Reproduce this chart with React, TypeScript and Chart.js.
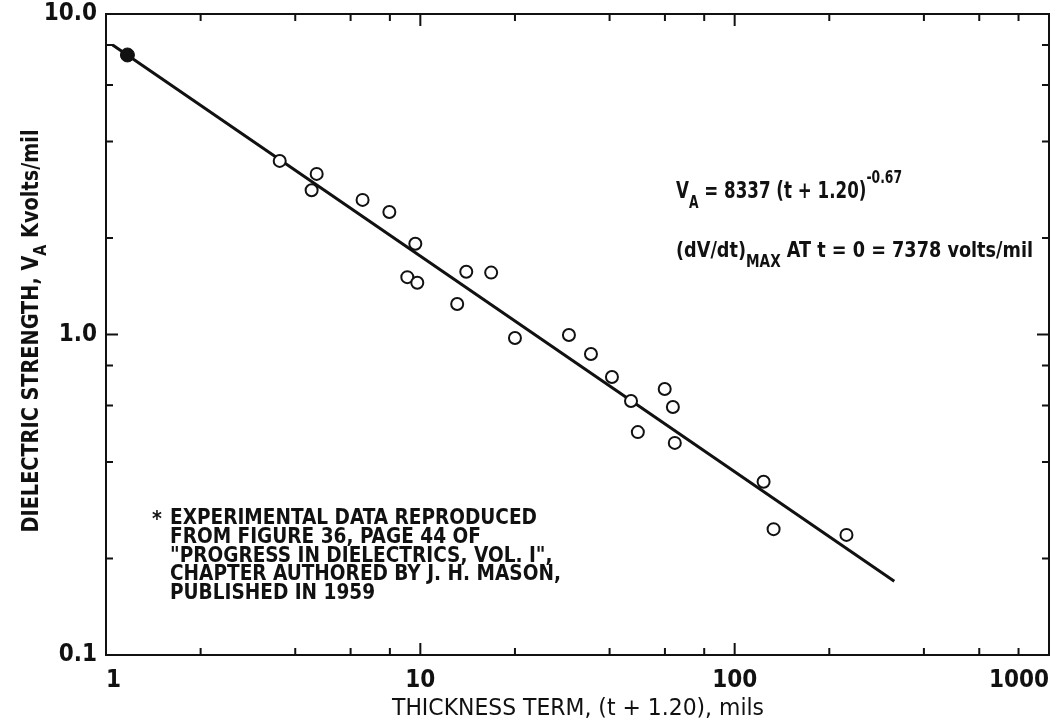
import React, { useEffect, useRef } from 'react';
import { Chart, registerables } from 'chart.js';

Chart.register(...registerables);

// ---- data ----
const openX = [3.57, 4.68, 4.51, 6.55, 7.97, 9.64, 9.09, 9.78, 14.0, 16.8, 13.1, 20.0, 29.7, 34.9, 40.7, 46.8, 59.9, 63.6, 49.2, 64.5, 123.6, 133, 226.8];
const openY = [3.48, 3.17, 2.82, 2.63, 2.41, 1.92, 1.51, 1.45, 1.57, 1.56, 1.245, 0.975, 0.996, 0.869, 0.737, 0.62, 0.676, 0.594, 0.496, 0.459, 0.347, 0.247, 0.237];
const solidX = [1.17];
const solidY = [7.45];
const fitX = [1.05, 322];
const fitY = [8.0, 0.17];

const xMajorTicks = [1, 10, 100, 1000];
const xMajorLabels = ['1', '10', '100', '1000'];
const xMinorTicks = [2, 4, 6, 8, 20, 40, 60, 80, 200, 400, 600, 800];
const yMajorTicks = [0.1, 1, 10];
const yMajorLabels = ['0.1', '1.0', '10.0'];
const yMinorTicks = [0.2, 0.4, 0.6, 0.8, 2, 4, 6, 8];

const noteLines = [
  'EXPERIMENTAL DATA REPRODUCED',
  'FROM FIGURE 36, PAGE 44 OF',
  '"PROGRESS IN DIELECTRICS, VOL. I",',
  'CHAPTER AUTHORED BY J. H. MASON,',
  'PUBLISHED IN 1959',
];

const FONT = "'DejaVu Sans Condensed', 'Liberation Sans Narrow', 'Liberation Sans', Arial, sans-serif";
const TICK_FONT = "'Liberation Sans Narrow', 'DejaVu Sans Condensed', 'Liberation Sans', sans-serif";

type Run = { t: string; size: number; dy?: number };

function drawRuns(
  ctx: CanvasRenderingContext2D,
  runs: Run[],
  x: number,
  y: number,
  opts: { width?: number; scale?: number; align?: 'left' | 'center'; rotate?: number; weight?: string }
) {
  const weight = opts.weight || 'normal';
  ctx.save();
  const widths = runs.map((r) => {
    ctx.font = `${weight} ${r.size}px ${FONT}`;
    return ctx.measureText(r.t).width;
  });
  const total = widths.reduce((a, b) => a + b, 0);
  const s = opts.width ? opts.width / total : opts.scale ?? 1;
  ctx.translate(x, y);
  if (opts.rotate) ctx.rotate(opts.rotate);
  ctx.scale(s, 1);
  ctx.fillStyle = '#111';
  ctx.textBaseline = 'alphabetic';
  ctx.textAlign = 'left';
  let cx = opts.align === 'center' ? -total / 2 : 0;
  runs.forEach((r, i) => {
    ctx.font = `${weight} ${r.size}px ${FONT}`;
    ctx.fillText(r.t, cx, r.dy || 0);
    cx += widths[i];
  });
  ctx.restore();
  return s;
}

const framePlugin = {
  id: 'frameTicks',
  beforeDatasetsDraw(chart: any) {
    const { ctx, chartArea: a, scales } = chart;
    const xs = scales.x;
    const ys = scales.y;
    ctx.save();
    ctx.strokeStyle = '#111';
    ctx.lineWidth = 2;
    ctx.strokeRect(a.left, a.top, a.right - a.left, a.bottom - a.top);
    const tick = (vals: number[], len: number, horiz: boolean) => {
      vals.forEach((v) => {
        if (horiz) {
          const px = xs.getPixelForValue(v);
          ctx.beginPath();
          ctx.moveTo(px, a.bottom);
          ctx.lineTo(px, a.bottom - len);
          ctx.moveTo(px, a.top);
          ctx.lineTo(px, a.top + len);
          ctx.stroke();
        } else {
          const py = ys.getPixelForValue(v);
          ctx.beginPath();
          ctx.moveTo(a.left, py);
          ctx.lineTo(a.left + len, py);
          ctx.moveTo(a.right, py);
          ctx.lineTo(a.right - len, py);
          ctx.stroke();
        }
      });
    };
    tick(xMajorTicks, 12, true);
    tick(xMinorTicks, 7, true);
    tick(yMajorTicks, 12, false);
    tick(yMinorTicks, 7, false);
    ctx.restore();
  },
  afterDraw(chart: any) {
    const ctx = chart.ctx as CanvasRenderingContext2D;
    // equation 1
    drawRuns(
      ctx,
      [
        { t: 'V', size: 23 },
        { t: 'A', size: 17, dy: 10 },
        { t: ' = 8337 (t + 1.20)', size: 23 },
        { t: '-0.67', size: 17, dy: -15 },
      ],
      676,
      198,
      { width: 226, weight: 'bold' }
    );
    // equation 2
    drawRuns(
      ctx,
      [
        { t: '(dV/dt)', size: 22 },
        { t: 'MAX', size: 17, dy: 10 },
        { t: ' AT t = 0 = 7378 volts/mil', size: 22 },
      ],
      676,
      257,
      { width: 357, weight: 'bold' }
    );
    // note
    const s = drawRuns(ctx, [{ t: noteLines[0], size: 21 }], 170, 524, { width: 367, weight: 'bold' });
    for (let i = 1; i < noteLines.length; i++) {
      drawRuns(ctx, [{ t: noteLines[i], size: 21 }], 170, 524 + i * 18.8, { scale: s, weight: 'bold' });
    }
    drawRuns(ctx, [{ t: '*', size: 21 }], 152, 526, { scale: 1, weight: 'bold' });
    // axis titles
    drawRuns(ctx, [{ t: 'THICKNESS TERM, (t + 1.20), mils', size: 23 }], 578, 715, {
      width: 372,
      align: 'center',
    });
    drawRuns(
      ctx,
      [
        { t: 'DIELECTRIC STRENGTH, V', size: 23 },
        { t: 'A', size: 17, dy: 8 },
        { t: ' Kvolts/mil', size: 23 },
      ],
      38,
      331,
      { width: 403, align: 'center', rotate: -Math.PI / 2, weight: 'bold' }
    );
  },
};

export default function App() {
  const ref = useRef<HTMLCanvasElement | null>(null);
  useEffect(() => {
    if (!ref.current) return;
    const tickFont = { family: TICK_FONT, size: 24, weight: 'bold' as const };
    const chart = new Chart(ref.current, {
      type: 'scatter',
      data: {
        datasets: [
          {
            type: 'line',
            label: 'fit',
            data: fitX.map((x, i) => ({ x, y: fitY[i] })),
            borderColor: '#111',
            borderWidth: 3,
            pointRadius: 0,
            fill: false,
            order: 3,
          } as any,
          {
            label: 'open',
            data: openX.map((x, i) => ({ x, y: openY[i] })),
            pointStyle: 'circle',
            pointRadius: 6,
            pointBorderWidth: 2,
            borderColor: '#111',
            backgroundColor: '#fff',
            order: 1,
          },
          {
            label: 'solid',
            data: solidX.map((x, i) => ({ x, y: solidY[i] })),
            pointStyle: 'circle',
            pointRadius: 7,
            pointBorderWidth: 1,
            borderColor: '#111',
            backgroundColor: '#111',
            order: 0,
          },
        ],
      },
      options: {
        animation: false,
        responsive: false,
        events: [],
        layout: { padding: { top: 14, right: 6, left: 0, bottom: 0 } },
        plugins: { legend: { display: false }, tooltip: { enabled: false } },
        scales: {
          x: {
            type: 'logarithmic',
            min: 1,
            max: 1000,
            position: 'bottom',
            grid: { display: false, drawTicks: false },
            border: { display: false },
            afterBuildTicks: (s: any) => {
              s.ticks = xMajorTicks.map((v) => ({ value: v }));
            },
            afterFit: (s: any) => {
              s.height = 69;
              s.paddingLeft = 0;
              s.paddingRight = 0;
            },
            ticks: {
              autoSkip: false,
              maxRotation: 0,
              align: 'inner',
              padding: 11,
              color: '#111',
              font: tickFont,
              callback: (v: any) => {
                const i = xMajorTicks.indexOf(Number(v));
                return i >= 0 ? xMajorLabels[i] : '';
              },
            },
          },
          y: {
            type: 'logarithmic',
            min: 0.1,
            max: 10,
            grid: { display: false, drawTicks: false },
            border: { display: false },
            afterBuildTicks: (s: any) => {
              s.ticks = yMajorTicks.map((v) => ({ value: v }));
            },
            afterFit: (s: any) => {
              s.width = 106;
              s.paddingTop = 0;
              s.paddingBottom = 0;
            },
            ticks: {
              autoSkip: false,
              padding: 9,
              color: '#111',
              font: tickFont,
              callback: (v: any) => {
                const i = yMajorTicks.indexOf(Number(v));
                return i >= 0 ? yMajorLabels[i] : '';
              },
            },
          },
        },
      },
      plugins: [framePlugin],
    });
    return () => chart.destroy();
  }, []);
  return (
    <div style={{ position: 'fixed', left: 0, top: 0, width: 1057, height: 724, background: '#fff' }}>
      <canvas ref={ref} width={1057} height={724} />
    </div>
  );
}
